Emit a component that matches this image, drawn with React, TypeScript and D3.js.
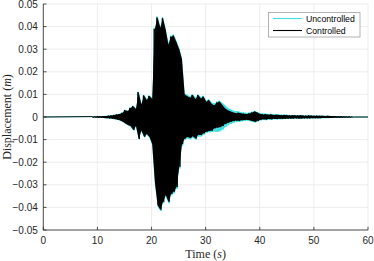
import React from 'react';
import * as d3 from 'd3';

// sample grid (s): one upper and one lower peak every half second
const T0 = 9;
const DT = 0.5;

const controlledUpper = [
  0.0002, 0.0002, 0.0003, 0.0003, 0.0004, 0.0004, 0.0006, 0.0007, 0.0009, 0.0011,
  0.0013, 0.0018, 0.0030, 0.0026, 0.0040, 0.0048, 0.0035, 0.0110, 0.0055, 0.0095,
  0.0075, 0.0093, 0.0080, 0.0390, 0.0440, 0.0395, 0.0437, 0.0385, 0.0320, 0.0355,
  0.0360, 0.0330, 0.0300, 0.0255, 0.0100, 0.0092, 0.0085, 0.0097, 0.0078, 0.0097,
  0.0082, 0.0090, 0.0068, 0.0075, 0.0058, 0.0052, 0.0064, 0.0068, 0.0052, 0.0038,
  0.0030, 0.0024, 0.0020, 0.0017, 0.0019, 0.0015, 0.0014, 0.0013, 0.0016, 0.0020,
  0.0024, 0.0019, 0.0013, 0.0011, 0.0012, 0.0010, 0.0011, 0.0009, 0.0010, 0.0009,
  0.0008, 0.0009, 0.0008, 0.0007, 0.0008, 0.0007, 0.0007, 0.0008, 0.0006, 0.0006,
  0.0007, 0.0006, 0.0005, 0.0006, 0.0005, 0.0005, 0.0004, 0.0005, 0.0004, 0.0004,
  0.0003, 0.0003, 0.0003, 0.0002, 0.0002, 0.0002, 0.0001,
];
const controlledLower = [
  -0.0002, -0.0002, -0.0003, -0.0003, -0.0004, -0.0005, -0.0006, -0.0007, -0.0009, -0.0011,
  -0.0014, -0.0020, -0.0028, -0.0035, -0.0040, -0.0057, -0.0040, -0.0097, -0.0060, -0.0087,
  -0.0075, -0.0088, -0.0120, -0.0290, -0.0390, -0.0410, -0.0375, -0.0345, -0.0375, -0.0340,
  -0.0330, -0.0310, -0.0220, -0.0120, -0.0095, -0.0088, -0.0093, -0.0085, -0.0095, -0.0078,
  -0.0080, -0.0072, -0.0065, -0.0062, -0.0060, -0.0050, -0.0047, -0.0045, -0.0040, -0.0030,
  -0.0025, -0.0021, -0.0018, -0.0016, -0.0017, -0.0014, -0.0013, -0.0012, -0.0014, -0.0018,
  -0.0021, -0.0017, -0.0012, -0.0010, -0.0011, -0.0009, -0.0010, -0.0008, -0.0009, -0.0008,
  -0.0008, -0.0008, -0.0007, -0.0007, -0.0007, -0.0006, -0.0007, -0.0007, -0.0006, -0.0006,
  -0.0006, -0.0005, -0.0005, -0.0005, -0.0005, -0.0004, -0.0004, -0.0004, -0.0004, -0.0003,
  -0.0003, -0.0003, -0.0003, -0.0002, -0.0002, -0.0002, -0.0001,
];
const uncontrolledUpper = [
  0.0002, 0.0002, 0.0003, 0.0003, 0.0004, 0.0005, 0.0006, 0.0008, 0.0010, 0.0012,
  0.0014, 0.0020, 0.0032, 0.0028, 0.0042, 0.0050, 0.0038, 0.0112, 0.0060, 0.0098,
  0.0080, 0.0095, 0.0085, 0.0395, 0.0445, 0.0400, 0.0442, 0.0390, 0.0328, 0.0360,
  0.0365, 0.0336, 0.0306, 0.0262, 0.0105, 0.0098, 0.0092, 0.0102, 0.0086, 0.0100,
  0.0088, 0.0094, 0.0072, 0.0079, 0.0064, 0.0060, 0.0068, 0.0072, 0.0062, 0.0052,
  0.0040, 0.0034, 0.0028, 0.0025, 0.0025, 0.0021, 0.0020, 0.0018, 0.0020, 0.0023,
  0.0027, 0.0022, 0.0017, 0.0015, 0.0015, 0.0013, 0.0014, 0.0012, 0.0012, 0.0011,
  0.0010, 0.0011, 0.0010, 0.0009, 0.0009, 0.0008, 0.0008, 0.0009, 0.0007, 0.0007,
  0.0008, 0.0007, 0.0006, 0.0006, 0.0006, 0.0005, 0.0005, 0.0005, 0.0004, 0.0004,
  0.0004, 0.0003, 0.0003, 0.0003, 0.0002, 0.0002, 0.0001,
];
const uncontrolledLower = [
  -0.0002, -0.0002, -0.0003, -0.0003, -0.0004, -0.0005, -0.0007, -0.0008, -0.0010, -0.0012,
  -0.0015, -0.0022, -0.0030, -0.0037, -0.0043, -0.0060, -0.0043, -0.0100, -0.0064, -0.0090,
  -0.0080, -0.0092, -0.0125, -0.0296, -0.0396, -0.0416, -0.0381, -0.0352, -0.0382, -0.0346,
  -0.0337, -0.0317, -0.0228, -0.0128, -0.0100, -0.0095, -0.0098, -0.0092, -0.0100, -0.0086,
  -0.0086, -0.0078, -0.0070, -0.0068, -0.0066, -0.0064, -0.0066, -0.0063, -0.0055, -0.0044,
  -0.0036, -0.0030, -0.0025, -0.0022, -0.0022, -0.0019, -0.0018, -0.0016, -0.0018, -0.0022,
  -0.0024, -0.0020, -0.0015, -0.0013, -0.0014, -0.0012, -0.0012, -0.0010, -0.0011, -0.0010,
  -0.0010, -0.0009, -0.0009, -0.0008, -0.0008, -0.0007, -0.0008, -0.0008, -0.0007, -0.0007,
  -0.0007, -0.0006, -0.0006, -0.0006, -0.0005, -0.0005, -0.0005, -0.0005, -0.0004, -0.0004,
  -0.0004, -0.0003, -0.0003, -0.0003, -0.0002, -0.0002, -0.0001,
];

const xTicks = [0, 10, 20, 30, 40, 50, 60];
const yTicks = [-0.05, -0.04, -0.03, -0.02, -0.01, 0, 0.01, 0.02, 0.03, 0.04, 0.05];

const W = 374;
const H = 261;
const m = { left: 43.3, right: 6, top: 4, bottom: 31 };

const sansFont = '"Liberation Sans", Arial, sans-serif';
const serifFont = '"Liberation Serif", "Times New Roman", serif';

const UNC = '#3ee0e0';
const CTL = '#000';

const x = d3.scaleLinear().domain([0, 60]).range([m.left, W - m.right]);
const y = d3.scaleLinear().domain([-0.05, 0.05]).range([H - m.bottom, m.top]);

// zig-zag through the peaks: up at t, down half a step later
function zigzag(upper: number[], lower: number[]) {
  const pts: [number, number][] = [[0, 0]];
  upper.forEach((u, i) => {
    const t = T0 + i * DT;
    pts.push([t, u]);
    pts.push([t + DT / 2, lower[i]]);
  });
  pts.push([T0 + upper.length * DT, 0]);
  pts.push([60, 0]);
  return d3.line<[number, number]>()
    .x(d => x(d[0]))
    .y(d => y(d[1]))(pts) as string;
}

// dense oscillation fills the band between the peaks
function band(upper: number[], lower: number[]) {
  return d3.area<number>()
    .x((_, i) => x(T0 + i * DT + DT / 4))
    .y0((_, i) => y(lower[i]))
    .y1(u => y(u))(upper) as string;
}

const App: React.FC = () => {
  const fmt = (v: number) => (v === 0 ? '0' : d3.format('.2f')(v));
  return (
    <div style={{ position: 'absolute', left: 0, top: 0 }}>
      <svg width={W} height={H} style={{ display: 'block', background: '#fff' }}>
        {/* grid */}
        <g stroke="#e8e8e8" strokeWidth={0.8}>
          {xTicks.map(t => (
            <line key={'gx' + t} x1={x(t)} x2={x(t)} y1={y(-0.05)} y2={y(0.05)} />
          ))}
          {yTicks.map(t => (
            <line key={'gy' + t} x1={x(0)} x2={x(60)} y1={y(t)} y2={y(t)} />
          ))}
        </g>

        {/* signals */}
        <path d={band(uncontrolledUpper, uncontrolledLower)} fill={UNC} stroke="none" />
        <path d={zigzag(uncontrolledUpper, uncontrolledLower)} fill="none" stroke={UNC} strokeWidth={0.9} />
        <path d={band(controlledUpper, controlledLower)} fill={CTL} stroke="none" />
        <path d={zigzag(controlledUpper, controlledLower)} fill="none" stroke={CTL} strokeWidth={0.9} />

        {/* axes */}
        <g stroke="#262626" strokeWidth={0.8}>
          <line x1={x(0)} x2={x(60)} y1={y(-0.05)} y2={y(-0.05)} />
          <line x1={x(0)} x2={x(0)} y1={y(-0.05)} y2={y(0.05)} />
          {xTicks.map(t => (
            <line key={'tx' + t} x1={x(t)} x2={x(t)} y1={y(-0.05)} y2={y(-0.05) - 3.2} />
          ))}
          {yTicks.map(t => (
            <line key={'ty' + t} x1={x(0)} x2={x(0) + 3.2} y1={y(t)} y2={y(t)} />
          ))}
        </g>
        <g fill="#262626" fontFamily={sansFont} fontSize={10}>
          {xTicks.map(t => (
            <text key={'lx' + t} x={x(t)} y={y(-0.05) + 14} textAnchor="middle">{t}</text>
          ))}
          {yTicks.map(t => (
            <text key={'ly' + t} x={x(0) - 5.5} y={y(t)} dy="0.35em" textAnchor="end">{fmt(t)}</text>
          ))}
        </g>

        {/* axis titles */}
        <text x={(x(0) + x(60)) / 2} y={H - 3.5} textAnchor="middle" fontFamily={serifFont} fontSize={12} fill="#262626">
          Time (<tspan fontStyle="italic">s</tspan>)
        </text>
        <text transform={`translate(10.5,${(y(-0.05) + y(0.05)) / 2}) rotate(-90)`} textAnchor="middle"
          fontFamily={serifFont} fontSize={12} fill="#262626">
          Displacement (<tspan fontStyle="italic">m</tspan>)
        </text>

        {/* legend */}
        <g>
          <rect x={268.5} y={12.5} width={91.5} height={24.5} fill="#fff" stroke="#a0a0a0" strokeWidth={0.8} />
          <line x1={273} x2={302} y1={18.5} y2={18.5} stroke={UNC} strokeWidth={1.1} />
          <line x1={273} x2={302} y1={30.5} y2={30.5} stroke={CTL} strokeWidth={1.1} />
          <text x={306} y={21.6} fontFamily={sansFont} fontSize={8.7} fill="#000">Uncontrolled</text>
          <text x={306} y={33.6} fontFamily={sansFont} fontSize={8.7} fill="#000">Controlled</text>
        </g>
      </svg>
    </div>
  );
};

export default App;
